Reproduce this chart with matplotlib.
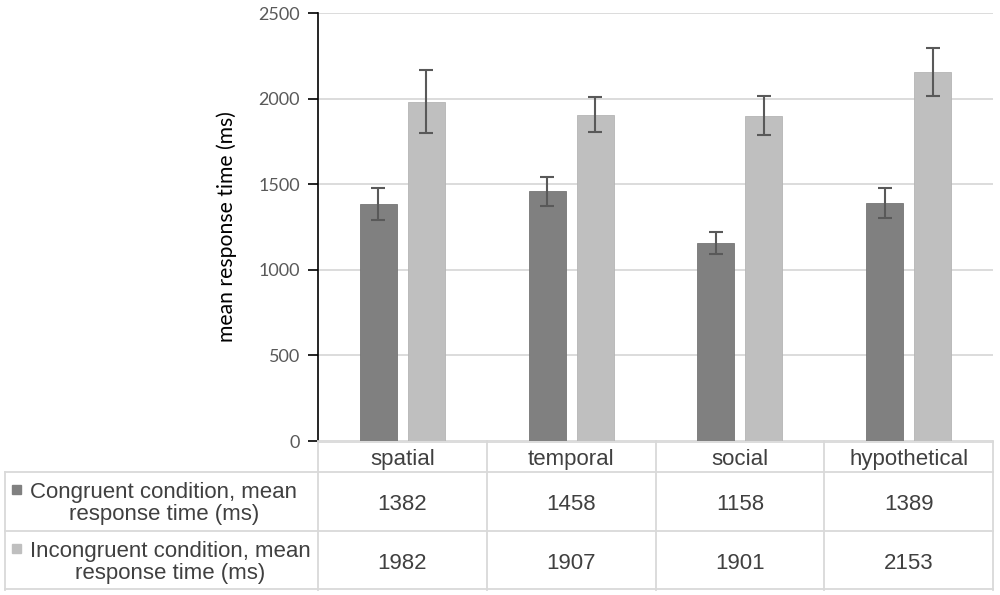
import matplotlib
matplotlib.use("Agg")
import matplotlib.pyplot as plt
import numpy as np

categories = ["spatial", "temporal", "social", "hypothetical"]
congruent = [1382, 1458, 1158, 1389]
incongruent = [1982, 1907, 1901, 2153]
congruent_err = [93, 85, 64, 87]
incongruent_err = [183, 103, 114, 140]
series_labels = ["Congruent condition, mean\nresponse time (ms)",
                 "Incongruent condition, mean\nresponse time (ms)"]
yticks = [0, 500, 1000, 1500, 2000, 2500]

W, H = 1000, 595
fig = plt.figure(figsize=(W / 100, H / 100), dpi=100)

def fx(px):
    return px / W

def fy(py):
    return 1 - py / H

dark = "#808080"
light = "#bfbfbf"
grid = "#d9d9d9"
errc = "#595959"
txt = "#404040"

x_left, x_right = 318, 993
y_top, y_bot = 13, 441
ax = fig.add_axes([fx(x_left), fy(y_bot), (x_right - x_left) / W, (y_bot - y_top) / H])
x = np.arange(len(categories))
off = 0.142
bw = 0.22
ax.bar(x - off, congruent, bw, color=dark, edgecolor="#767676", linewidth=0.6, zorder=3)
ax.bar(x + off, incongruent, bw, color=light, edgecolor="#b5b5b5", linewidth=0.6, zorder=3)
ax.errorbar(x - off, congruent, yerr=congruent_err, fmt="none", ecolor=errc,
            elinewidth=1.5, capsize=5, capthick=1.5, zorder=4)
ax.errorbar(x + off, incongruent, yerr=incongruent_err, fmt="none", ecolor=errc,
            elinewidth=1.5, capsize=5, capthick=1.5, zorder=4)
ax.set_xlim(-0.5, len(categories) - 0.5)
ax.set_ylim(0, 2500)
ax.set_yticks(yticks)
ax.set_yticklabels([str(v) for v in yticks], fontfamily="Lato", fontsize=13, color="#595959")
ax.set_xticks([])
ax.yaxis.grid(True, color=grid, linewidth=1.3, zorder=0)
ax.set_axisbelow(True)
for s in ["top", "right", "bottom"]:
    ax.spines[s].set_visible(False)
ax.spines["left"].set_color("#000000")
ax.spines["left"].set_linewidth(1.2)
ax.tick_params(axis="y", length=7, width=1.2, color="#000000", pad=6)
ax.set_ylabel("mean response time (ms)", fontfamily="Lato", fontsize=15.2, color="#000000", labelpad=15)

# Table
t_left, t_bot = 5, 590
tab = fig.add_axes([fx(t_left), fy(t_bot), (x_right - t_left) / W, (t_bot - y_bot) / H])
tab.set_xlim(t_left, x_right)
tab.set_ylim(t_bot, y_bot)
tab.axis("off")
cw = (x_right - x_left) / len(categories)
lc = grid
lw = 1.3
row_h = 472
row_1 = 531
# horizontal lines
tab.plot([x_left, x_right], [y_bot + 0.5, y_bot + 0.5], color=lc, lw=lw, clip_on=False)
for yy in [row_h, row_1, t_bot - 0.7]:
    tab.plot([t_left, x_right], [yy, yy], color=lc, lw=lw, clip_on=False)
# vertical lines
tab.plot([t_left, t_left], [row_h, t_bot], color=lc, lw=lw, clip_on=False)
for i in range(len(categories) + 1):
    xx = x_left + i * cw
    tab.plot([xx, xx], [y_bot, t_bot], color=lc, lw=lw, clip_on=False)

tfont = dict(fontfamily="Liberation Sans", fontsize=16, color=txt)
for i, c in enumerate(categories):
    cx = x_left + (i + 0.5) * cw
    tab.text(cx, 465, c, ha="center", va="baseline", **tfont)
    tab.text(cx, (row_h + row_1) / 2 + 3, str(congruent[i]), ha="center", va="center", **tfont)
    tab.text(cx, (row_1 + t_bot) / 2 + 3, str(incongruent[i]), ha="center", va="center", **tfont)

for yy0, yy1, lab, col, xc in [(row_h, row_1, series_labels[0], dark, 164),
                               (row_1, t_bot, series_labels[1], light, 170)]:
    cy = (yy0 + yy1) / 2
    tab.text(xc, cy + 2, lab, ha="center", va="center", linespacing=1.1, **tfont)
    tab.add_patch(plt.Rectangle((12, cy - 16.5), 9, 9, color=col, clip_on=False))

fig.savefig("out.png", dpi=100)
